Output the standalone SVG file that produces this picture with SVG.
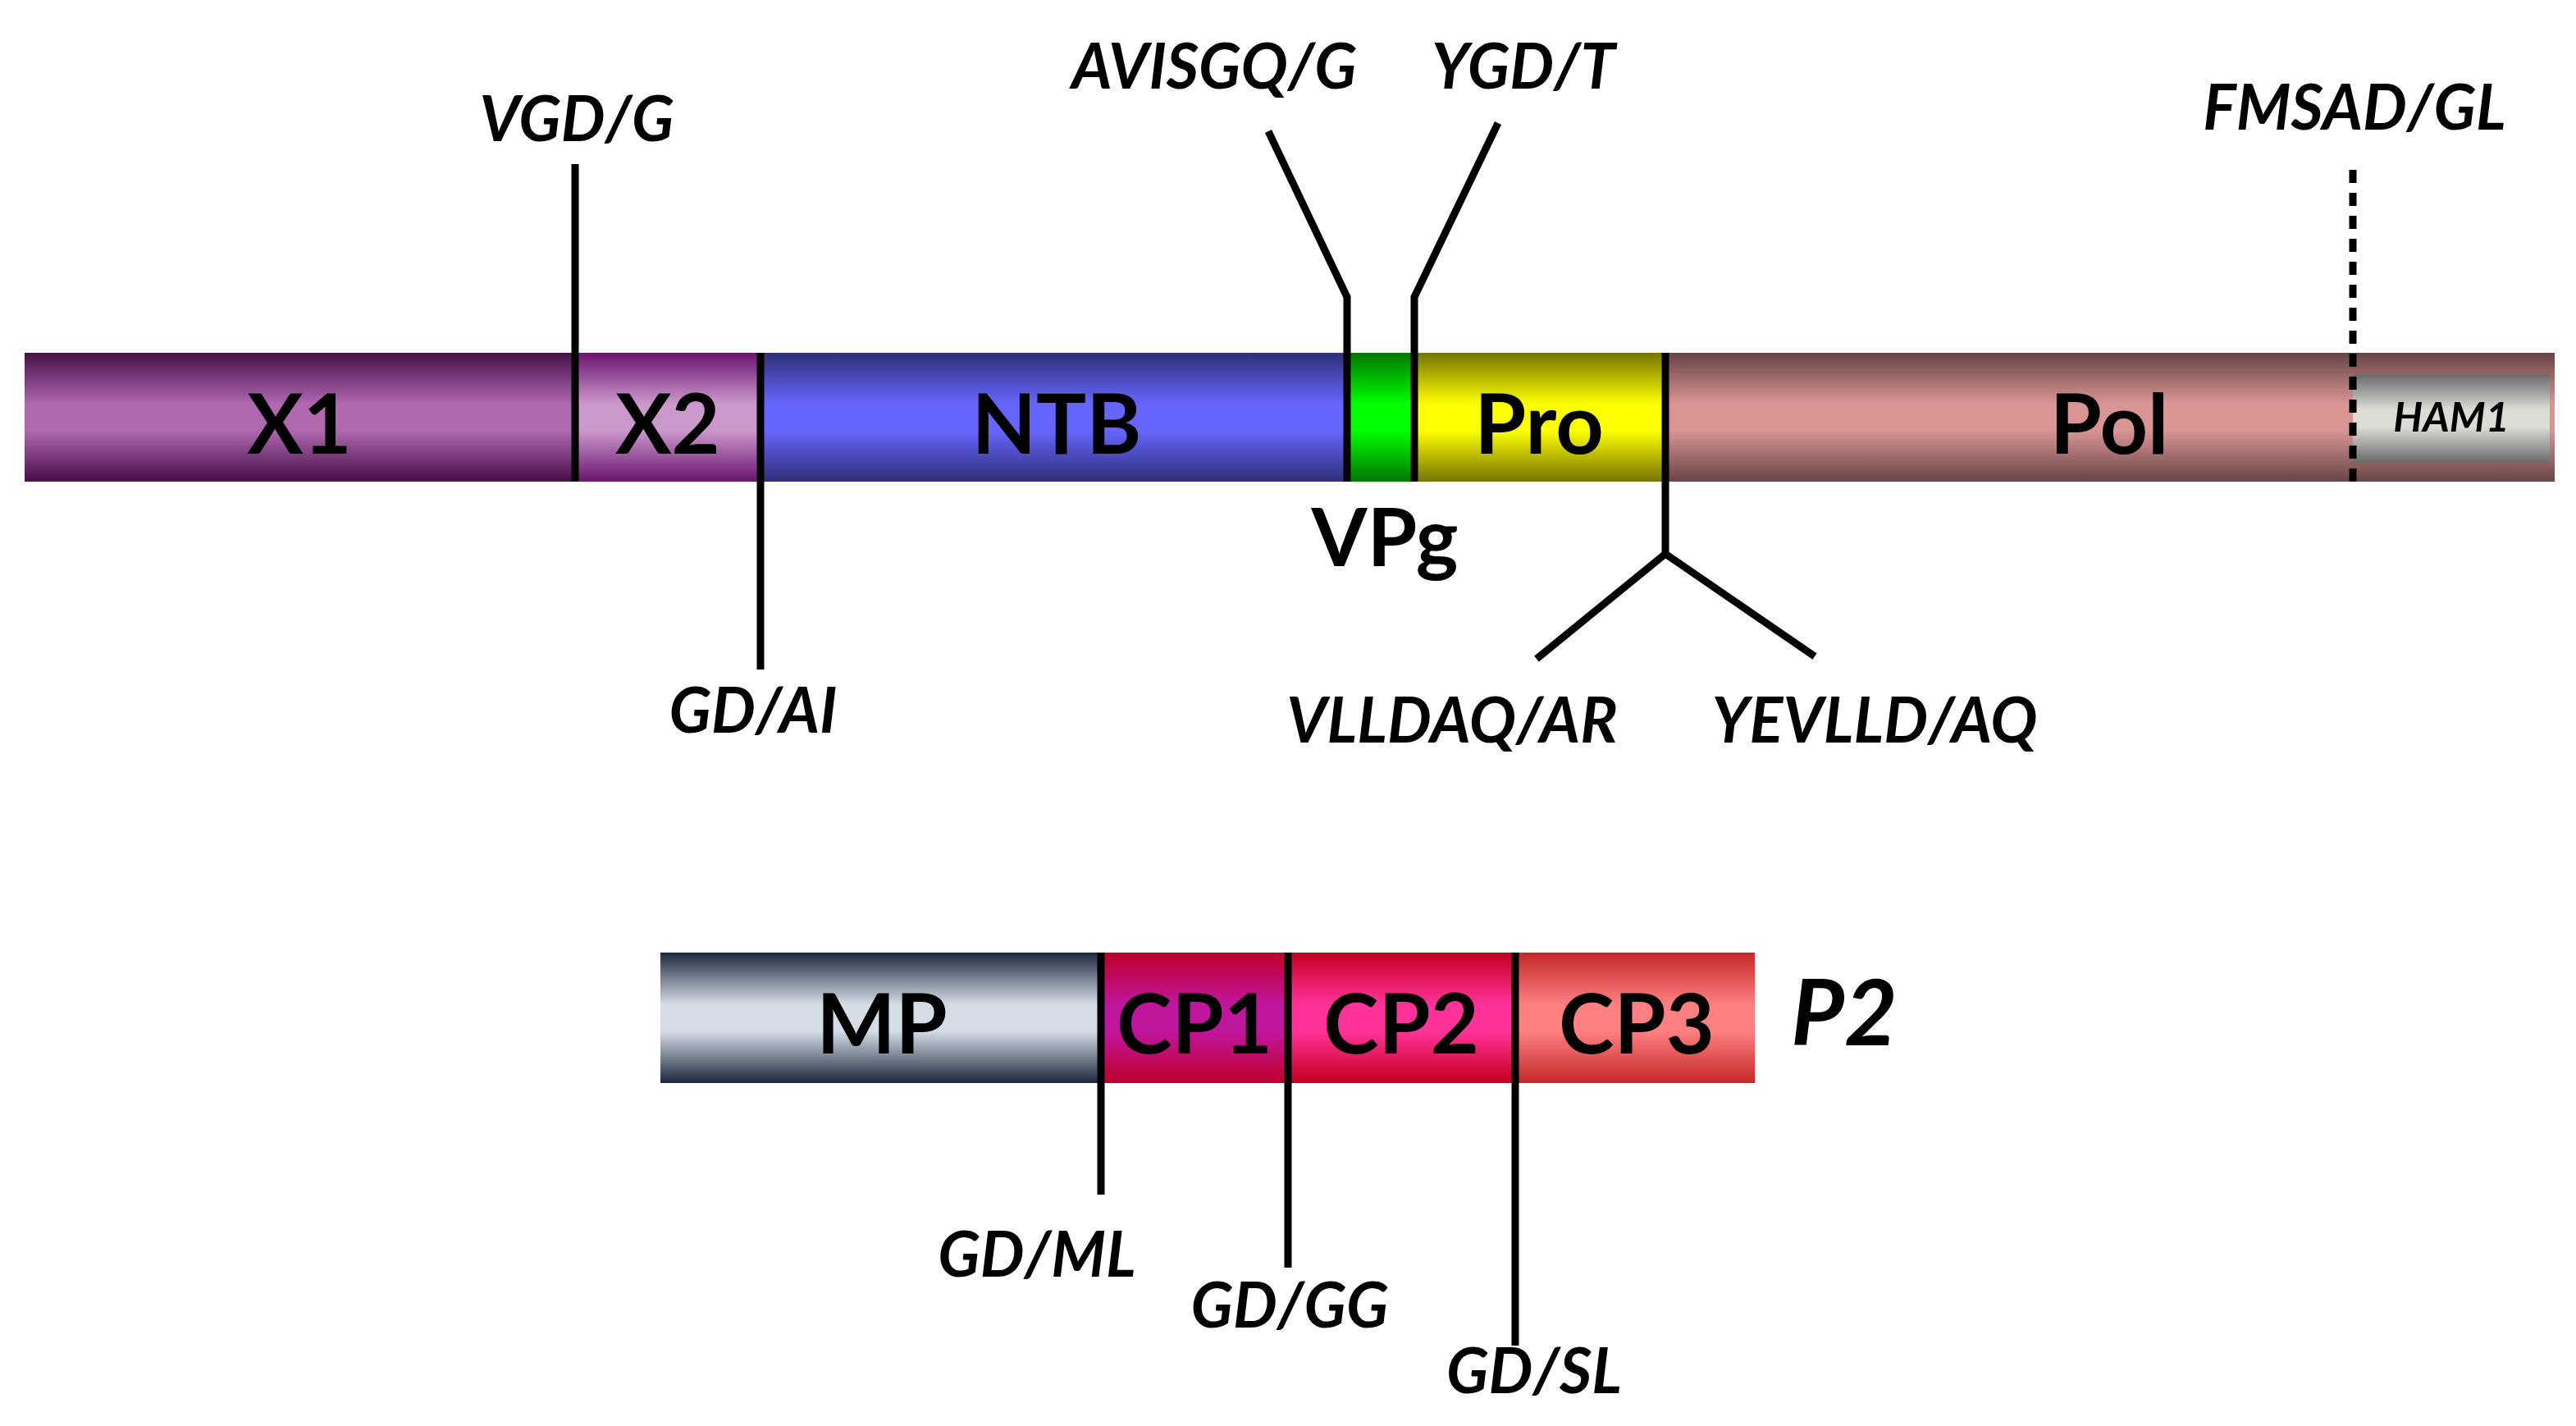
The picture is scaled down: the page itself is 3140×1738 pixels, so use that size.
<svg xmlns="http://www.w3.org/2000/svg" width="3140" height="1738" viewBox="0 0 3140 1738">
<style>
.seg{font-family:Lato,"Liberation Sans",sans-serif;font-weight:bold;font-size:102px;fill:#000;text-anchor:middle}
.site{font-family:Lato,"Liberation Sans",sans-serif;font-weight:bold;font-style:italic;font-size:76px;fill:#000;text-anchor:middle}
.cut{stroke:#000;stroke-width:9;fill:none;stroke-linejoin:miter}
</style>
<defs>
<linearGradient id="gX1" x1="0" y1="0" x2="0" y2="1"><stop offset="0" stop-color="#46104a"/><stop offset="0.4" stop-color="#b068b0"/><stop offset="0.6" stop-color="#b068b0"/><stop offset="1" stop-color="#46104a"/></linearGradient>
<linearGradient id="gX2" x1="0" y1="0" x2="0" y2="1"><stop offset="0" stop-color="#6a1470"/><stop offset="0.4" stop-color="#cc99cc"/><stop offset="0.6" stop-color="#cc99cc"/><stop offset="1" stop-color="#6a1470"/></linearGradient>
<linearGradient id="gNTB" x1="0" y1="0" x2="0" y2="1"><stop offset="0" stop-color="#2f2f78"/><stop offset="0.4" stop-color="#6666ff"/><stop offset="0.6" stop-color="#6666ff"/><stop offset="1" stop-color="#2f2f78"/></linearGradient>
<linearGradient id="gVPg" x1="0" y1="0" x2="0" y2="1"><stop offset="0" stop-color="#007800"/><stop offset="0.4" stop-color="#00ff00"/><stop offset="0.6" stop-color="#00ff00"/><stop offset="1" stop-color="#007800"/></linearGradient>
<linearGradient id="gPro" x1="0" y1="0" x2="0" y2="1"><stop offset="0" stop-color="#747400"/><stop offset="0.4" stop-color="#ffff00"/><stop offset="0.6" stop-color="#ffff00"/><stop offset="1" stop-color="#747400"/></linearGradient>
<linearGradient id="gPol" x1="0" y1="0" x2="0" y2="1"><stop offset="0" stop-color="#684444"/><stop offset="0.4" stop-color="#d99594"/><stop offset="0.6" stop-color="#d99594"/><stop offset="1" stop-color="#684444"/></linearGradient>
<linearGradient id="gHAM" x1="0" y1="0" x2="0" y2="1"><stop offset="0" stop-color="#686868"/><stop offset="0.4" stop-color="#dcdcd4"/><stop offset="0.6" stop-color="#dcdcd4"/><stop offset="1" stop-color="#686868"/></linearGradient>
<linearGradient id="gMP" x1="0" y1="0" x2="0" y2="1"><stop offset="0" stop-color="#1c2840"/><stop offset="0.4" stop-color="#d6dde6"/><stop offset="0.6" stop-color="#d6dde6"/><stop offset="1" stop-color="#1c2840"/></linearGradient>
<linearGradient id="gCP1" x1="0" y1="0" x2="0" y2="1"><stop offset="0" stop-color="#c0002a"/><stop offset="0.4" stop-color="#c0169e"/><stop offset="0.6" stop-color="#c0169e"/><stop offset="1" stop-color="#c0002a"/></linearGradient>
<linearGradient id="gCP2" x1="0" y1="0" x2="0" y2="1"><stop offset="0" stop-color="#c40020"/><stop offset="0.4" stop-color="#ff3399"/><stop offset="0.6" stop-color="#ff3399"/><stop offset="1" stop-color="#c40020"/></linearGradient>
<linearGradient id="gCP3" x1="0" y1="0" x2="0" y2="1"><stop offset="0" stop-color="#c42828"/><stop offset="0.4" stop-color="#ff8080"/><stop offset="0.6" stop-color="#ff8080"/><stop offset="1" stop-color="#c42828"/></linearGradient>
</defs>
<rect width="3140" height="1738" fill="#fff"/>

<g id="P1">
<g id="X1"><rect x="30" y="430" width="671" height="157" fill="url(#gX1)"/><text class="seg" x="365" y="553">X1</text></g>
<g id="X2"><rect x="701" y="430" width="226" height="157" fill="url(#gX2)"/><text class="seg" x="814" y="553">X2</text></g>
<g id="NTB"><rect x="927" y="430" width="715" height="157" fill="url(#gNTB)"/><text class="seg" x="1288" y="553">NTB</text></g>
<g id="VPg"><rect x="1642" y="430" width="82" height="157" fill="url(#gVPg)"/><text class="seg" x="1688" y="690" style="font-size:98px">VPg</text></g>
<g id="Pro"><rect x="1724" y="430" width="306" height="157" fill="url(#gPro)"/><text class="seg" x="1876" y="553">Pro</text></g>
<g id="Pol"><rect x="2030" y="430" width="1084" height="157" fill="url(#gPol)"/><text class="seg" x="2571" y="553">Pol</text></g>
<g id="HAM1"><rect x="2868" y="456" width="240" height="108" fill="url(#gHAM)"/><text class="site" x="2988" y="526" style="font-size:50px">HAM1</text></g>
</g>

<g id="P2">
<g id="MP"><rect x="805" y="1161" width="537" height="159" fill="url(#gMP)"/><text class="seg" x="1075" y="1284">MP</text></g>
<g id="CP1"><rect x="1342" y="1161" width="228" height="159" fill="url(#gCP1)"/><text class="seg" x="1456" y="1284">CP1</text></g>
<g id="CP2"><rect x="1570" y="1161" width="277" height="159" fill="url(#gCP2)"/><text class="seg" x="1708" y="1284">CP2</text></g>
<g id="CP3"><rect x="1847" y="1161" width="292" height="159" fill="url(#gCP3)"/><text class="seg" x="1995" y="1284">CP3</text></g>
<text class="site" x="2248" y="1274" style="font-size:112px">P2</text>
</g>

<g id="connectors">
<line class="cut" x1="701" y1="200" x2="701" y2="587"/>
<line class="cut" x1="927" y1="430" x2="927" y2="816"/>
<polyline class="cut" points="1546,160 1642,362 1642,587"/>
<polyline class="cut" points="1826,150 1724,362 1724,587"/>
<polyline class="cut" points="2030,430 2030,675"/>
<polyline class="cut" points="1873,803 2030,675 2212,800"/>
<line class="cut" x1="2868" y1="207" x2="2868" y2="588" stroke-dasharray="16,12"/>
<line class="cut" x1="1342" y1="1161" x2="1342" y2="1456"/>
<line class="cut" x1="1570" y1="1161" x2="1570" y2="1545"/>
<line class="cut" x1="1847" y1="1161" x2="1847" y2="1640"/>
</g>

<g id="labels">
<text class="site" x="703" y="172">VGD/G</text>
<text class="site" x="918" y="893">GD/AI</text>
<text class="site" x="1480" y="108">AVISGQ/G</text>
<text class="site" x="1857" y="108">YGD/T</text>
<text class="site" x="2870" y="158">FMSAD/GL</text>
<text class="site" x="1770" y="905">VLLDAQ/AR</text>
<text class="site" x="2285" y="905">YEVLLD/AQ</text>
<text class="site" x="1264" y="1556">GD/ML</text>
<text class="site" x="1572" y="1618">GD/GG</text>
<text class="site" x="1870" y="1698">GD/SL</text>
</g>
</svg>
